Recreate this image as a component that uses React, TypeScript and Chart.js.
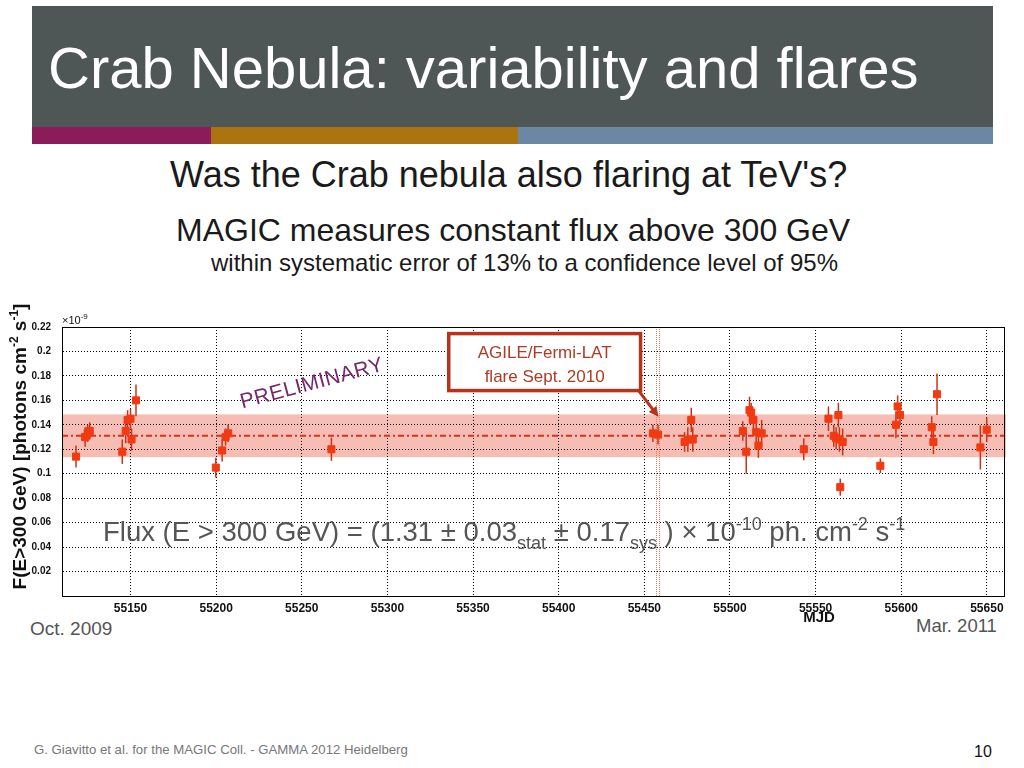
import React, { useEffect, useRef } from "react";
import { Chart, registerables } from "chart.js";

Chart.register(...registerables);

// ---- data (MJD, integral flux above 300 GeV in units of 1e-9 ph cm^-2 s^-1) ----
const mjd = [
  55118.2, 55123.5, 55125.0, 55126.2, 55145.2, 55147.2, 55148.3, 55150.0, 55150.6, 55153.2,
  55199.8, 55203.5, 55205.5, 55207.0, 55267.3,
  55455.0, 55458.0, 55473.5, 55475.4, 55477.4, 55478.3,
  55507.5, 55509.5, 55511.4, 55512.4, 55513.7, 55515.3, 55516.6, 55518.5,
  55543.1, 55557.5, 55560.6, 55562.0, 55563.3, 55563.9, 55565.8, 55564.4,
  55587.8, 55596.9, 55597.9, 55599.3, 55617.8, 55618.8, 55620.9, 55646.2, 55649.9,
];
const flux = [
  0.114, 0.130, 0.133, 0.135, 0.118, 0.135, 0.144, 0.145, 0.128, 0.160,
  0.105, 0.119, 0.130, 0.133, 0.120,
  0.133, 0.132, 0.126, 0.128, 0.144, 0.128,
  0.135, 0.118, 0.152, 0.150, 0.144, 0.134, 0.123, 0.133,
  0.120, 0.145, 0.131, 0.129, 0.148, 0.128, 0.126, 0.089,
  0.1065, 0.140, 0.155, 0.148, 0.138, 0.126, 0.165, 0.1215, 0.136,
];
const fluxErr = [
  0.009, 0.008, 0.007, 0.007, 0.010, 0.010, 0.008, 0.008, 0.009, 0.013,
  0.008, 0.009, 0.007, 0.007, 0.0095,
  0.007, 0.008, 0.008, 0.010, 0.010, 0.010,
  0.008, 0.018, 0.011, 0.008, 0.008, 0.010, 0.010, 0.011,
  0.009, 0.010, 0.009, 0.009, 0.010, 0.010, 0.011, 0.007,
  0.006, 0.011, 0.009, 0.008, 0.009, 0.010, 0.017, 0.018, 0.010,
];
const xTickValues = [55150, 55200, 55250, 55300, 55350, 55400, 55450, 55500, 55550, 55600, 55650];
const yTickValues = [0.02, 0.04, 0.06, 0.08, 0.1, 0.12, 0.14, 0.16, 0.18, 0.2, 0.22];
const xRange = [55110, 55660];
const yRange = [0, 0.22];
const meanFlux = 0.131;
const sysBand = [0.1135, 0.1485];
const flareLines = [55456.6, 55458.3];
const annotationBox = { x0: 55335.8, x1: 55447.8, y0: 0.168, y1: 0.2146 };
const arrowTip = { x: 55458.3, y: 0.1465 };
const annotationText = ["AGILE/Fermi-LAT", "flare Sept. 2010"];

const FONT = "'Liberation Sans', Arial, Helvetica, sans-serif";

type Seg = { t: string; size: number; dy: number; bold?: boolean };

function drawRich(ctx: CanvasRenderingContext2D, x: number, y: number, segs: Seg[], center = false) {
  let total = 0;
  for (const s of segs) {
    ctx.font = `${s.bold ? "bold " : ""}${s.size}px ${FONT}`;
    total += ctx.measureText(s.t).width;
  }
  let cx = center ? x - total / 2 : x;
  ctx.textAlign = "left";
  ctx.textBaseline = "alphabetic";
  for (const s of segs) {
    ctx.font = `${s.bold ? "bold " : ""}${s.size}px ${FONT}`;
    ctx.fillText(s.t, cx, y + s.dy);
    cx += ctx.measureText(s.t).width;
  }
}

const decorPlugin = {
  id: "decor",
  beforeDraw(chart: any) {
    const { ctx, chartArea: a, scales } = chart;
    const y = scales.y;
    ctx.save();
    ctx.fillStyle = "#f5bdb3";
    const yt = y.getPixelForValue(sysBand[1]);
    const yb = y.getPixelForValue(sysBand[0]);
    ctx.fillRect(a.left, yt, a.right - a.left + 2, yb - yt);
    ctx.restore();
  },
  beforeDatasetsDraw(chart: any) {
    const { ctx, chartArea: a, scales } = chart;
    const x = scales.x, y = scales.y;
    ctx.save();
    // flare marker lines
    ctx.strokeStyle = "#e2785c";
    ctx.lineWidth = 1;
    ctx.setLineDash([1, 1]);
    for (const m of flareLines) {
      const px = Math.round(x.getPixelForValue(m)) + 0.5;
      ctx.beginPath();
      ctx.moveTo(px, a.top);
      ctx.lineTo(px, a.bottom);
      ctx.stroke();
    }
    // mean line (dash-dot)
    ctx.strokeStyle = "#d8321e";
    ctx.lineWidth = 2;
    ctx.setLineDash([6, 3, 2, 3]);
    const ym = y.getPixelForValue(meanFlux);
    ctx.beginPath();
    ctx.moveTo(a.left, ym);
    ctx.lineTo(a.right, ym);
    ctx.stroke();
    // error bars
    ctx.setLineDash([]);
    ctx.strokeStyle = "#c4361c";
    ctx.lineWidth = 1.5;
    for (let i = 0; i < mjd.length; i++) {
      const px = x.getPixelForValue(mjd[i]);
      ctx.beginPath();
      ctx.moveTo(px, y.getPixelForValue(flux[i] - fluxErr[i]));
      ctx.lineTo(px, y.getPixelForValue(flux[i] + fluxErr[i]));
      ctx.stroke();
    }
    ctx.restore();
  },
  afterDraw(chart: any) {
    const { ctx, chartArea: a, scales } = chart;
    const x = scales.x, y = scales.y;
    ctx.save();
    // frame
    ctx.strokeStyle = "#000";
    ctx.lineWidth = 1;
    ctx.setLineDash([]);
    ctx.strokeRect(Math.round(a.left) + 0.5, Math.round(a.top) + 0.5, Math.round(a.right - a.left), Math.round(a.bottom - a.top));

    // exponent label
    ctx.fillStyle = "#111";
    drawRich(ctx, a.left, a.top - 3, [
      { t: "\u00d710", size: 11, dy: 0 },
      { t: "-9", size: 8, dy: -5 },
    ]);

    // y axis title
    ctx.save();
    ctx.translate(26, (a.top + a.bottom) / 2 - 15);
    ctx.rotate(-Math.PI / 2);
    ctx.fillStyle = "#111";
    drawRich(ctx, 0, 0, [
      { t: "F(E>300 GeV) [photons cm", size: 19, dy: 0, bold: true },
      { t: "-2", size: 12, dy: -8, bold: true },
      { t: " s", size: 19, dy: 0, bold: true },
      { t: "-1", size: 12, dy: -8, bold: true },
      { t: "]", size: 19, dy: 0, bold: true },
    ], true);
    ctx.restore();

    // x axis title
    ctx.fillStyle = "#111";
    ctx.font = `bold 15px ${FONT}`;
    ctx.textAlign = "center";
    ctx.fillText("MJD", x.getPixelForValue(55552), a.bottom + 26);

    // PRELIMINARY watermark
    ctx.save();
    ctx.translate(x.getPixelForValue(55256), y.getPixelForValue(0.1735));
    ctx.rotate((-15 * Math.PI) / 180);
    ctx.fillStyle = "#76266a";
    ctx.font = `21px ${FONT}`;
    ctx.textAlign = "center";
    ctx.textBaseline = "middle";
    (ctx as any).letterSpacing = "0.5px";
    ctx.fillText("PRELIMINARY", 0, 0);
    ctx.restore();

    // annotation box
    const bx0 = x.getPixelForValue(annotationBox.x0);
    const bx1 = x.getPixelForValue(annotationBox.x1);
    const by0 = y.getPixelForValue(annotationBox.y1);
    const by1 = y.getPixelForValue(annotationBox.y0);
    ctx.fillStyle = "#ffffff";
    ctx.fillRect(bx0, by0, bx1 - bx0, by1 - by0);
    ctx.strokeStyle = "#b7341c";
    ctx.lineWidth = 3.5;
    ctx.strokeRect(bx0, by0, bx1 - bx0, by1 - by0);
    ctx.fillStyle = "#b03a22";
    ctx.font = `17px ${FONT}`;
    ctx.textAlign = "center";
    ctx.textBaseline = "alphabetic";
    const bcx = (bx0 + bx1) / 2;
    ctx.fillText(annotationText[0], bcx, by0 + 24);
    ctx.fillText(annotationText[1], bcx, by0 + 48);

    // arrow
    const tx = x.getPixelForValue(arrowTip.x);
    const ty = y.getPixelForValue(arrowTip.y);
    const sx = bx1 - 2, sy = by1;
    const ang = Math.atan2(ty - sy, tx - sx);
    const head = 11;
    ctx.strokeStyle = "#b7341c";
    ctx.lineWidth = 3;
    ctx.beginPath();
    ctx.moveTo(sx, sy);
    ctx.lineTo(tx - Math.cos(ang) * head * 0.8, ty - Math.sin(ang) * head * 0.8);
    ctx.stroke();
    ctx.fillStyle = "#b7341c";
    ctx.beginPath();
    ctx.moveTo(tx, ty);
    ctx.lineTo(tx - head * Math.cos(ang - 0.45), ty - head * Math.sin(ang - 0.45));
    ctx.lineTo(tx - head * Math.cos(ang + 0.45), ty - head * Math.sin(ang + 0.45));
    ctx.closePath();
    ctx.fill();

    // flux formula
    ctx.fillStyle = "#555555";
    drawRich(ctx, a.left + 41, y.getPixelForValue(0.045), [
      { t: "Flux (E > 300 GeV) = (1.31 \u00b1 0.03", size: 27.5, dy: 0 },
      { t: "stat", size: 18, dy: 8 },
      { t: " \u00b1 0.17", size: 27.5, dy: 0 },
      { t: "sys", size: 18, dy: 8 },
      { t: " ) \u00d7 10", size: 27.5, dy: 0 },
      { t: "-10", size: 18, dy: -11 },
      { t: " ph. cm", size: 27.5, dy: 0 },
      { t: "-2", size: 18, dy: -11 },
      { t: " s", size: 27.5, dy: 0 },
      { t: "-1", size: 18, dy: -11 },
    ]);
    ctx.restore();
  },
};

export default function App() {
  const ref = useRef<HTMLCanvasElement | null>(null);

  useEffect(() => {
    if (!ref.current) return;
    const points = mjd.map((m, i) => ({ x: m, y: flux[i] }));
    const chart = new Chart(ref.current, {
      type: "scatter",
      data: {
        datasets: [
          {
            label: "MAGIC flux",
            data: points,
            backgroundColor: "#f23a12",
            borderColor: "#f23a12",
            borderWidth: 1,
            pointStyle: "rect",
            pointRadius: 5,
          },
        ],
      },
      options: {
        responsive: false,
        animation: false,
        layout: { padding: { left: 12, right: 20, top: 327, bottom: 142 } },
        plugins: { legend: { display: false }, tooltip: { enabled: false } },
        scales: {
          x: {
            type: "linear",
            min: xRange[0],
            max: xRange[1],
            afterBuildTicks: (s: any) => {
              s.ticks = xTickValues.map((v) => ({ value: v }));
            },
            afterFit: (s: any) => {
              s.height = 30;
            },
            grid: { color: "#000", lineWidth: 1, drawTicks: false },
            border: { display: true, color: "#000", width: 1, dash: [1, 2] },
            ticks: {
              padding: 5,
              color: "#111",
              font: { family: FONT, size: 12, weight: "bold" },
              maxRotation: 0,
              autoSkip: false,
              callback: (v: any) => String(v),
            },
          },
          y: {
            type: "linear",
            min: yRange[0],
            max: yRange[1],
            afterBuildTicks: (s: any) => {
              s.ticks = yTickValues.map((v) => ({ value: v }));
            },
            afterFit: (s: any) => {
              s.width = 50;
            },
            grid: { color: "#000", lineWidth: 1, drawTicks: false },
            border: { display: true, color: "#000", width: 1, dash: [1, 2] },
            ticks: {
              padding: 11,
              color: "#111",
              font: { family: FONT, size: 10, weight: "bold" },
              autoSkip: false,
              callback: (v: any) => String(Number(Number(v).toFixed(2))),
            },
          },
        },
      },
      plugins: [decorPlugin],
    } as any);
    return () => chart.destroy();
  }, []);

  const abs = (o: React.CSSProperties): React.CSSProperties => ({
    position: "absolute",
    whiteSpace: "nowrap",
    lineHeight: 1,
    fontFamily: FONT,
    margin: 0,
    ...o,
  });

  return (
    <div style={{ position: "absolute", left: 0, top: 0, width: 1024, height: 768, background: "#fff", overflow: "hidden" }}>
      <div style={abs({ left: 32, top: 6, width: 961, height: 121, background: "#4e5756" })} />
      <div style={abs({ left: 48, top: 39, fontSize: 58, color: "#ffffff" })}>Crab Nebula: variability and flares</div>
      <div style={abs({ left: 32, top: 127, width: 179, height: 17, background: "#8c1b5b" })} />
      <div style={abs({ left: 211, top: 127, width: 307, height: 17, background: "#ab7410" })} />
      <div style={abs({ left: 518, top: 127, width: 475, height: 17, background: "#6b87a4" })} />
      <div style={abs({ left: 170, top: 156.5, fontSize: 36, color: "#1a1a1a" })}>Was the Crab nebula also flaring at TeV's?</div>
      <div style={abs({ left: 176, top: 214, fontSize: 32, color: "#1a1a1a" })}>MAGIC measures constant flux above 300 GeV</div>
      <div style={abs({ left: 211, top: 250.7, fontSize: 24, color: "#1a1a1a" })}>within systematic error of 13% to a confidence level of 95%</div>
      <div style={abs({ left: 30, top: 619, fontSize: 19, color: "#555" })}>Oct. 2009</div>
      <div style={abs({ left: 916, top: 616.8, fontSize: 18.5, color: "#555" })}>Mar. 2011</div>
      <div style={abs({ left: 34, top: 743, fontSize: 13.2, color: "#777" })}>
        G. Giavitto et al. for the MAGIC Coll. - GAMMA 2012 Heidelberg
      </div>
      <div style={abs({ left: 974, top: 743.5, fontSize: 16, color: "#111" })}>10</div>
      <canvas ref={ref} width={1024} height={768} style={{ position: "absolute", left: 0, top: 0, width: 1024, height: 768 }} />
    </div>
  );
}
